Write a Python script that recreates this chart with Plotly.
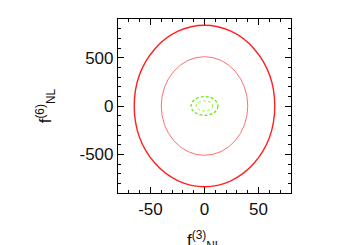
import plotly.graph_objects as go

# Ellipse contours (centre at 0,0): semi-axes in f3 (x) and f6 (y)
labels = ["red outer", "red inner", "green outer", "green inner"]
semi_x = [65, 40, 12.4, 7.7]
semi_y = [835, 510, 97, 52]
colors = ["#ff2020", "#ff7070", "#66e600", "#88ee33"]
widths = [1.4, 1.0, 1.2, 0.9]
dashes = ["solid", "solid", "3px,2px", "3px,2px"]

x_ticks = [-50, 0, 50]
y_ticks = [-500, 0, 500]

fig = go.Figure()
# invisible trace to establish axes
fig.add_trace(go.Scatter(x=[0], y=[0], mode="markers", marker=dict(opacity=0), showlegend=False, hoverinfo="skip"))

for a, b, c, w, d in zip(semi_x, semi_y, colors, widths, dashes):
    fig.add_shape(type="circle", xref="x", yref="y", x0=-a, x1=a, y0=-b, y1=b,
                  line=dict(color=c, width=w, dash=d))

font = dict(family="Liberation Sans, Arial, sans-serif", size=17, color="#111111")

axis_common = dict(
    showgrid=False, zeroline=False, showline=True, linecolor="black", linewidth=1.2,
    mirror="allticks", ticks="inside", ticklen=6, tickcolor="black", tickwidth=1,
    tickfont=font, automargin=False,
)
fig.update_xaxes(range=[-80, 80], tickvals=x_ticks, ticktext=[str(v) for v in x_ticks],
                 minor=dict(dtick=10, tick0=0, ticks="inside", ticklen=3, tickcolor="black", tickwidth=1),
                 **axis_common)
fig.update_yaxes(range=[-900, 900], tickvals=y_ticks, ticktext=[str(v) for v in y_ticks],
                 minor=dict(dtick=100, tick0=0, ticks="inside", ticklen=3, tickcolor="black", tickwidth=1),
                 **axis_common)

fig.add_annotation(text="f<sup>(3)</sup><sub>NL</sub>", xref="paper", yref="paper",
                   x=0.5, y=-0.19, xanchor="center", yanchor="top", showarrow=False, font=font)
fig.add_annotation(text="f<sup>(6)</sup><sub>NL</sub>", xref="paper", yref="paper",
                   x=-0.42, y=0.5, xanchor="center", yanchor="middle", textangle=-90,
                   showarrow=False, font=font)

# page body has an 8px default margin, so the figure is sized/offset to compensate
fig.update_layout(template="none", width=342, height=237, margin=dict(l=110, r=59, t=11, b=52),
                  paper_bgcolor="white", plot_bgcolor="white", showlegend=False, font=font)

fig.write_html("out.html")
